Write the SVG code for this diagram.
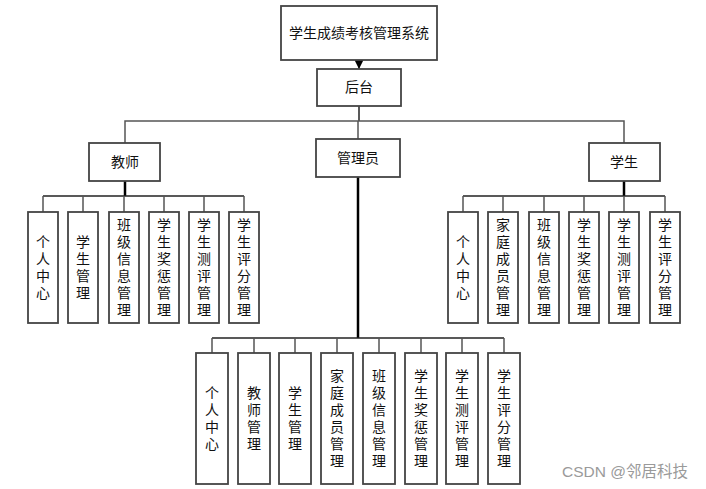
<svg xmlns="http://www.w3.org/2000/svg" width="706" height="489" viewBox="0 0 706 489">
<style>
.box{fill:#fff;stroke:#444;stroke-width:1.8}
.t{font-family:"Noto Sans CJK SC","Liberation Sans",sans-serif;font-size:14px;fill:#111;text-anchor:middle}
.v{font-family:"Noto Sans CJK SC","Liberation Sans",sans-serif;font-size:14px;fill:#111;text-anchor:middle;writing-mode:vertical-rl;letter-spacing:3px}
.ln{stroke:#555;stroke-width:1.5;fill:none}
.dk{stroke:#222;stroke-width:1.5;fill:none}
.tk{stroke:#000;stroke-width:2.5;fill:none}
.wm{font-family:"Liberation Sans","Noto Sans CJK SC",sans-serif;font-size:15.5px;fill:#9a9a9a}
</style>
<defs>
<marker id="arr" viewBox="0 0 10 10" refX="10" refY="5" markerWidth="9" markerHeight="9" markerUnits="userSpaceOnUse" orient="auto">
<path d="M0,0 L10,5 L0,10 z" fill="#000"/>
</marker>
</defs>
<rect width="706" height="489" fill="#fff"/>
<g id="connectors">
<line class="ln" x1="359" y1="60" x2="359" y2="69" marker-end="url(#arr)"/>
<line class="dk" x1="359" y1="106" x2="359" y2="121"/>
<polyline class="ln" points="125,143 125,121 624,121 624,143"/>
<line class="ln" x1="358" y1="121" x2="358" y2="139"/>
<line class="tk" x1="358" y1="177" x2="358" y2="338"/>
<line class="tk" x1="125" y1="181" x2="125" y2="196"/>
<line class="tk" x1="624" y1="181" x2="624" y2="196"/>
<line class="dk" x1="43" y1="196" x2="244" y2="196"/>
<line class="dk" x1="463" y1="196" x2="665" y2="196"/>
<line class="dk" x1="212" y1="338" x2="504" y2="338"/>
<g class="ln">
<line x1="43" y1="196" x2="43" y2="212"/><line x1="83" y1="196" x2="83" y2="212"/><line x1="124" y1="196" x2="124" y2="212"/><line x1="164" y1="196" x2="164" y2="212"/><line x1="204" y1="196" x2="204" y2="212"/><line x1="244" y1="196" x2="244" y2="212"/>
<line x1="463" y1="196" x2="463" y2="212"/><line x1="503" y1="196" x2="503" y2="212"/><line x1="544" y1="196" x2="544" y2="212"/><line x1="584" y1="196" x2="584" y2="212"/><line x1="624" y1="196" x2="624" y2="212"/><line x1="665" y1="196" x2="665" y2="212"/>
<line x1="212" y1="338" x2="212" y2="353"/><line x1="254" y1="338" x2="254" y2="353"/><line x1="295" y1="338" x2="295" y2="353"/><line x1="337" y1="338" x2="337" y2="353"/><line x1="379" y1="338" x2="379" y2="353"/><line x1="421" y1="338" x2="421" y2="353"/><line x1="462" y1="338" x2="462" y2="353"/><line x1="504" y1="338" x2="504" y2="353"/>
</g>
</g>
<g id="root"><rect class="box" x="281" y="6" width="156" height="54"/><text class="t" x="359" y="38">学生成绩考核管理系统</text></g>
<g id="backend"><rect class="box" x="317" y="69" width="84" height="37"/><text class="t" x="359" y="92">后台</text></g>
<g id="admin"><rect class="box" x="316" y="139" width="84" height="38"/><text class="t" x="358" y="163">管理员</text></g>
<g id="teacher"><rect class="box" x="89" y="143" width="71" height="38"/><text class="t" x="125" y="167">教师</text></g>
<g id="student"><rect class="box" x="589" y="143" width="71" height="38"/><text class="t" x="624" y="167">学生</text></g>

<g id="t1"><rect class="box" x="28" y="212" width="30" height="111"/><text class="v" x="43" y="269">个人中心</text></g>
<g id="t2"><rect class="box" x="68" y="212" width="30" height="111"/><text class="v" x="83" y="269">学生管理</text></g>
<g id="t3"><rect class="box" x="109" y="212" width="30" height="111"/><text class="v" x="124" y="269">班级信息管理</text></g>
<g id="t4"><rect class="box" x="149" y="212" width="30" height="111"/><text class="v" x="164" y="269">学生奖惩管理</text></g>
<g id="t5"><rect class="box" x="189" y="212" width="30" height="111"/><text class="v" x="204" y="269">学生测评管理</text></g>
<g id="t6"><rect class="box" x="229" y="212" width="30" height="111"/><text class="v" x="244" y="269">学生评分管理</text></g>

<g id="s1"><rect class="box" x="448" y="212" width="30" height="111"/><text class="v" x="463" y="269">个人中心</text></g>
<g id="s2"><rect class="box" x="488" y="212" width="30" height="111"/><text class="v" x="503" y="269">家庭成员管理</text></g>
<g id="s3"><rect class="box" x="529" y="212" width="30" height="111"/><text class="v" x="544" y="269">班级信息管理</text></g>
<g id="s4"><rect class="box" x="569" y="212" width="30" height="111"/><text class="v" x="584" y="269">学生奖惩管理</text></g>
<g id="s5"><rect class="box" x="609" y="212" width="30" height="111"/><text class="v" x="624" y="269">学生测评管理</text></g>
<g id="s6"><rect class="box" x="650" y="212" width="30" height="111"/><text class="v" x="665" y="269">学生评分管理</text></g>

<g id="a1"><rect class="box" x="196" y="353" width="32" height="131"/><text class="v" x="212" y="419.5">个人中心</text></g>
<g id="a2"><rect class="box" x="238" y="353" width="32" height="131"/><text class="v" x="254" y="419.5">教师管理</text></g>
<g id="a3"><rect class="box" x="279" y="353" width="32" height="131"/><text class="v" x="295" y="419.5">学生管理</text></g>
<g id="a4"><rect class="box" x="321" y="353" width="32" height="131"/><text class="v" x="337" y="419.5">家庭成员管理</text></g>
<g id="a5"><rect class="box" x="363" y="353" width="32" height="131"/><text class="v" x="379" y="419.5">班级信息管理</text></g>
<g id="a6"><rect class="box" x="405" y="353" width="32" height="131"/><text class="v" x="421" y="419.5">学生奖惩管理</text></g>
<g id="a7"><rect class="box" x="446" y="353" width="32" height="131"/><text class="v" x="462" y="419.5">学生测评管理</text></g>
<g id="a8"><rect class="box" x="488" y="353" width="32" height="131"/><text class="v" x="504" y="419.5">学生评分管理</text></g>

<text class="wm" x="562" y="477">CSDN @邻居科技</text>
</svg>
